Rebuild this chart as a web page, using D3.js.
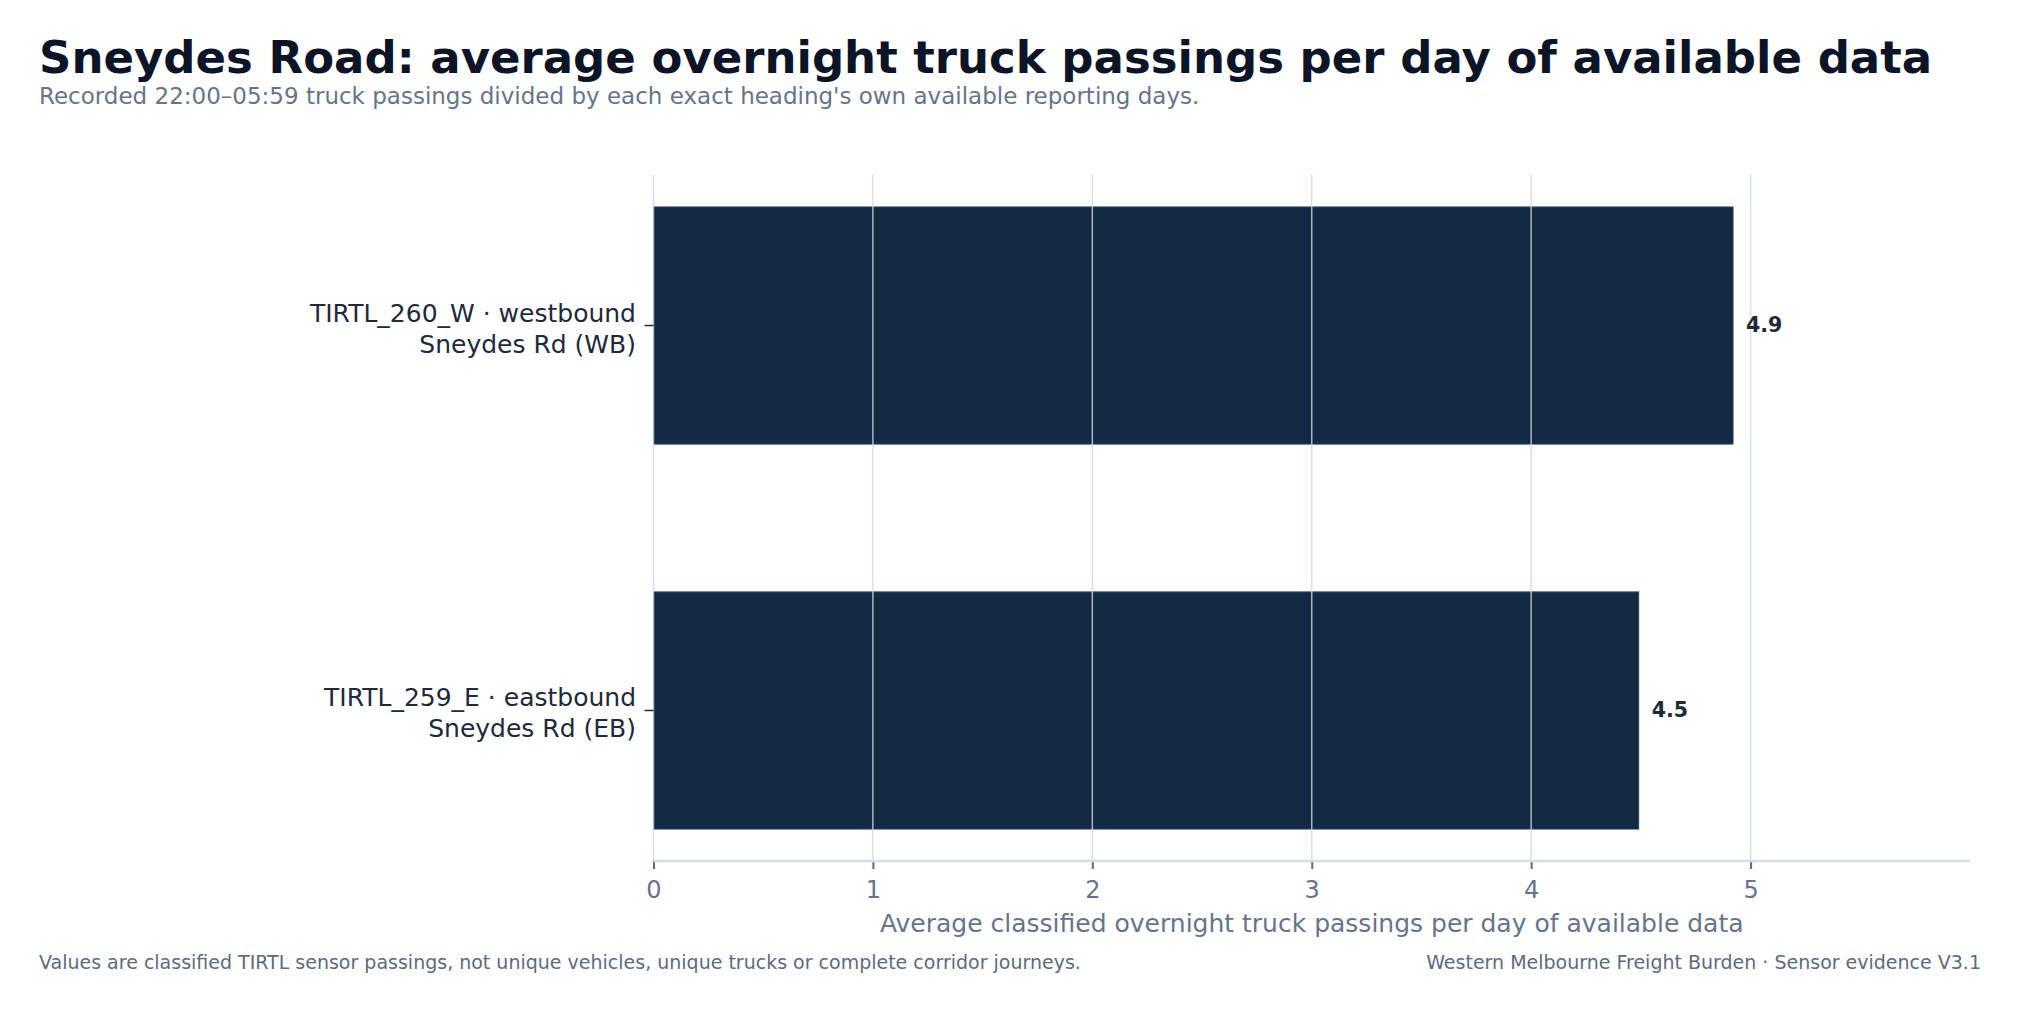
<!DOCTYPE html>
<html>
<head>
<meta charset="utf-8">
<script src="https://cdn.jsdelivr.net/npm/d3@7"></script>
<style>
html,body{margin:0;padding:0;background:#fff;}
svg{display:block;font-family:"DejaVu Sans",sans-serif;}
</style>
</head>
<body>
<svg id="chart" width="2021" height="1013"></svg>
<script>
const categories = ["TIRTL_260_W · westbound|Sneydes Rd (WB)", "TIRTL_259_E · eastbound|Sneydes Rd (EB)"];
const values = [4.92, 4.49];
const valueLabels = ["4.9", "4.5"];
const xTicks = [0, 1, 2, 3, 4, 5];
const xDomain = [0, 6];

const titleText = "Sneydes Road: average overnight truck passings per day of available data";
const subtitleText = "Recorded 22:00–05:59 truck passings divided by each exact heading's own available reporting days.";
const xTitleText = "Average classified overnight truck passings per day of available data";
const footLeft = "Values are classified TIRTL sensor passings, not unique vehicles, unique trucks or complete corridor journeys.";
const footRight = "Western Melbourne Freight Burden · Sensor evidence V3.1";

(function() {
const svg = d3.select("#chart");
const pL = 653.5, pR = 1970, pT = 175, pB = 861;

const x = d3.scaleLinear().domain(xDomain).range([pL, pR]);
const y = d3.scaleBand().domain(categories).range([pT, pB]).paddingInner(0.384).paddingOuter(0.083);

// title
svg.append("text").attr("x", 39).attr("y", 73).attr("font-size", 45).attr("font-weight", "bold")
  .attr("fill", "#0b1526").text(titleText);
svg.append("text").attr("x", 39).attr("y", 104).attr("font-size", 23)
  .attr("fill", "#64748b").text(subtitleText);

// bars
svg.append("g").selectAll("rect").data(categories).join("rect")
  .attr("x", x(0)).attr("y", d => y(d))
  .attr("width", (d, i) => x(values[i]) - x(0))
  .attr("height", y.bandwidth())
  .attr("fill", "#122a43").attr("stroke", "#2e4258").attr("stroke-width", 1);

// grid lines (drawn above bars)
svg.append("g").selectAll("line").data(xTicks).join("line")
  .attr("x1", d => x(d)).attr("x2", d => x(d))
  .attr("y1", pT).attr("y2", pB)
  .attr("stroke", "#cfd8e3").attr("stroke-opacity", 0.8).attr("stroke-width", 1.5);

// x axis
const xAxis = d3.axisBottom(x).tickValues(xTicks).tickFormat(d3.format("d")).tickSize(8).tickPadding(12);
const gx = svg.append("g").attr("transform", `translate(0,${pB})`).call(xAxis);
gx.select(".domain").remove();
gx.append("line").attr("x1", pL).attr("x2", pR).attr("y1", 0).attr("y2", 0)
  .attr("stroke", "#d5dde6").attr("stroke-width", 2.5);
gx.selectAll(".tick line").attr("stroke", "#5b6b7d").attr("stroke-width", 2);
gx.selectAll(".tick text").attr("font-size", 24).attr("fill", "#64748b")
  .attr("font-family", "DejaVu Sans");

svg.append("text").attr("x", (pL + pR) / 2).attr("y", 932).attr("text-anchor", "middle")
  .attr("font-size", 25).attr("fill", "#64748b").text(xTitleText);

// y axis
const yAxis = d3.axisLeft(y).tickSize(9).tickPadding(10).tickFormat("");
const gy = svg.append("g").attr("transform", `translate(${pL},0)`).call(yAxis);
gy.select(".domain").remove();
gy.selectAll(".tick line").attr("stroke", "#1e293b").attr("stroke-width", 1.5);
gy.selectAll(".tick").each(function(d) {
  const parts = d.split("|");
  const t = d3.select(this).append("text").attr("text-anchor", "end").attr("x", -17.5)
    .attr("font-size", 25).attr("fill", "#1e293b").attr("font-family", "DejaVu Sans");
  t.append("tspan").attr("x", -17.5).attr("y", -4).text(parts[0]);
  t.append("tspan").attr("x", -17.5).attr("y", 27).text(parts[1]);
});

// value labels
svg.append("g").selectAll("text").data(categories).join("text")
  .attr("x", (d, i) => x(values[i]) + 13)
  .attr("y", d => y(d) + y.bandwidth() / 2)
  .attr("dy", "0.3em")
  .attr("font-size", 20.5).attr("font-weight", "bold").attr("fill", "#1e293b")
  .text((d, i) => valueLabels[i]);

// footer
svg.append("text").attr("x", 39).attr("y", 969).attr("font-size", 19).attr("fill", "#5b6b7d").text(footLeft);
svg.append("text").attr("x", 1981).attr("y", 969).attr("text-anchor", "end").attr("font-size", 19)
  .attr("fill", "#5b6b7d").text(footRight);
})();
</script>
</body>
</html>
